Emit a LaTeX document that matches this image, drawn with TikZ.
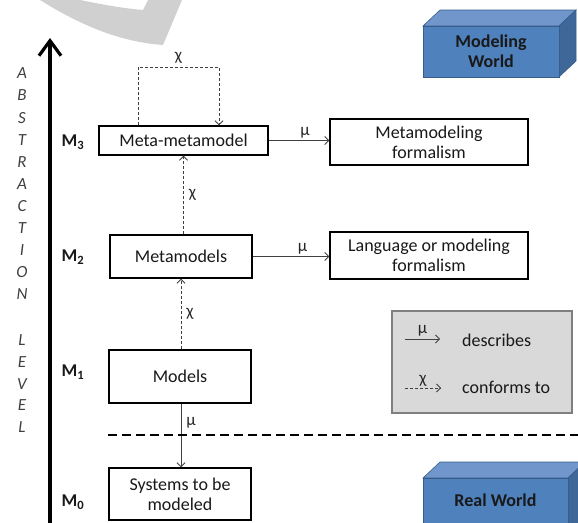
\documentclass[tikz,border=0pt]{standalone}
\usepackage{fontspec}
\setmainfont{Carlito}
\usetikzlibrary{arrows.meta}
\definecolor{bfront}{HTML}{4F81BD}
\definecolor{btop}{HTML}{7096CB}
\definecolor{bside}{HTML}{3F6898}
\definecolor{bedge}{HTML}{385D8A}
\definecolor{lgfill}{HTML}{D9D9D9}
\definecolor{lgedge}{HTML}{7F7F7F}
\definecolor{wm}{HTML}{D0D0D0}
\newcommand{\bigf}{\fontsize{18}{21}\selectfont}
\newcommand{\smallf}{\fontsize{17}{19}\selectfont}
\tikzset{
  box/.style={draw=black, line width=1.4pt, fill=white, align=center, inner sep=0pt, font=\bigf, text=black!90},
  conn/.style={draw=black!75, line width=0.8pt, -{Straight Barb[length=4pt,width=8pt]}},
  dconn/.style={conn, dash pattern=on 3pt off 2pt},
  glyph/.style={font=\smallf, inner sep=1pt, text=black!85},
  axisletter/.style={font=\fontsize{17}{19}\selectfont\itshape, text=black!75, inner sep=0pt},
  mlabel/.style={font=\bigf\bfseries, inner sep=0pt, text=black!90},
  worldtext/.style={font=\bigf\bfseries, align=center, text=black!90, inner sep=0pt}
}
\begin{document}
\begin{tikzpicture}[x=1pt,y=-1pt]
\useasboundingbox (0,0) rectangle (578,522);
\begin{scope}
\clip (0,0) rectangle (578,522);
% watermark band
\fill[wm] (40,0) .. controls (80,25) and (120,42) .. (163,45) -- (182,0) -- (148,0) -- (143,10) .. controls (120,8) and (100,4) .. (80,0) -- cycle;
% Modeling World block
\fill[btop, draw=bedge, line width=0.6pt] (423,26) -- (440,10) -- (576,10) -- (559,26) -- cycle;
\fill[bside, draw=bedge, line width=0.6pt] (559,26) -- (576,10) -- (576,61) -- (559,77) -- cycle;
\node[fill=bfront, draw=bedge, line width=0.6pt, minimum width=136pt, minimum height=51pt, inner sep=0pt] (mw) at (491,51.5) {};
\node[worldtext] at (mw.center) {Modeling\\[-1pt]World};
% Real World block
\fill[btop, draw=bedge, line width=0.6pt] (423,478) -- (440,462) -- (585,462) -- (568,478) -- cycle;
\fill[bside, draw=bedge, line width=0.6pt] (568,478) -- (585,462) -- (585,545) -- (568,545) -- cycle;
\node[fill=bfront, draw=bedge, line width=0.6pt, minimum width=145pt, minimum height=67pt, inner sep=0pt, anchor=north west] (rw) at (423,478) {};
\node[worldtext] at (495.5,500) {Real World};
\end{scope}
% axis arrow
\coordinate (axbot) at (50,523);
\coordinate (axtop) at (50,38);
\draw[line width=4pt, -{Straight Barb[length=15pt,width=22pt,line width=3.2pt]}] (axbot) -- (axtop);
% axis letters
\foreach \l/\y in {A/73,B/95,S/118,T/140,R/162,A/184,C/206,T/228,I/250,O/272,N/294,L/340,E/362,V/384,E/405,L/427}
  \node[axisletter] at (22,\y) {\l};
% level labels
\node[mlabel] (m3) at (73,142) {M\textsubscript{3}};
\node[mlabel] (m2) at (73,257) {M\textsubscript{2}};
\node[mlabel] (m1) at (73,372) {M\textsubscript{1}};
\node[mlabel] (m0) at (73,502) {M\textsubscript{0}};
% main boxes
\node[box, minimum width=169pt, minimum height=29pt] (mm) at (183.5,140.5) {Meta-metamodel};
\node[box, minimum width=142pt, minimum height=43pt] (meta) at (181,256.5) {Metamodels};
\node[box, minimum width=142pt, minimum height=53pt] (models) at (180,376.5) {Models};
\node[box, minimum width=142pt, minimum height=52pt] (sys) at (180,494) {Systems to be\\[-1pt]modeled};
\node[box, minimum width=198pt, minimum height=46pt] (mf) at (429,142) {Metamodeling\\[-1pt]formalism};
\node[box, minimum width=198pt, minimum height=47pt] (lf) at (429,255.5) {Language or modeling\\[-1pt]formalism};
% self loop
\draw[dconn] ([xshift=-45.5pt]mm.north) -- ++(0,-58) -| ([xshift=35.5pt]mm.north) node[pos=0.25, above=3pt, glyph] {χ};
% conforms-to arrows
\draw[dconn] (meta.north -| mm.south) -- (mm.south) node[midway, right=4pt, glyph] {χ};
\draw[dconn] (models.north -| meta.south) -- (meta.south) node[midway, right=4pt, glyph] {χ};
% describes arrows
\draw[conn] (mm.east) -- (mm.east -| mf.west) node[pos=0.6, above=1pt, glyph] {μ};
\draw[conn] (meta.east) -- (meta.east -| lf.west) node[pos=0.65, above=1pt, glyph] {μ};
\draw[conn] (models.south -| 181,0) -- (sys.north -| 181,0) node[pos=0.3, right=4pt, glyph] {μ};
% dashed separator
\coordinate (sepl) at (108,435);
\coordinate (sepr) at (578,435);
\draw[line width=2.6pt, dash pattern=on 9pt off 5pt] (sepl) -- (sepr);
% legend
\node[draw=lgedge, fill=lgfill, line width=1.4pt, minimum width=180pt, minimum height=102pt, inner sep=0pt] (leg) at (482,362) {};
\coordinate (l1a) at (405,339);
\coordinate (l1b) at (440,339);
\coordinate (l2a) at (405,388);
\coordinate (l2b) at (441,388);
\draw[conn] (l1a) -- (l1b) node[midway, above=1pt, glyph] {μ};
\draw[dconn] (l2a) -- (l2b) node[midway, above=0pt, glyph] {χ};
\node[font=\bigf, anchor=west, inner sep=0pt, text=black!90] (desc) at (462,340) {describes};
\node[font=\bigf, anchor=west, inner sep=0pt, text=black!90] (conf) at (462,387) {conforms to};
\end{tikzpicture}
\end{document}
